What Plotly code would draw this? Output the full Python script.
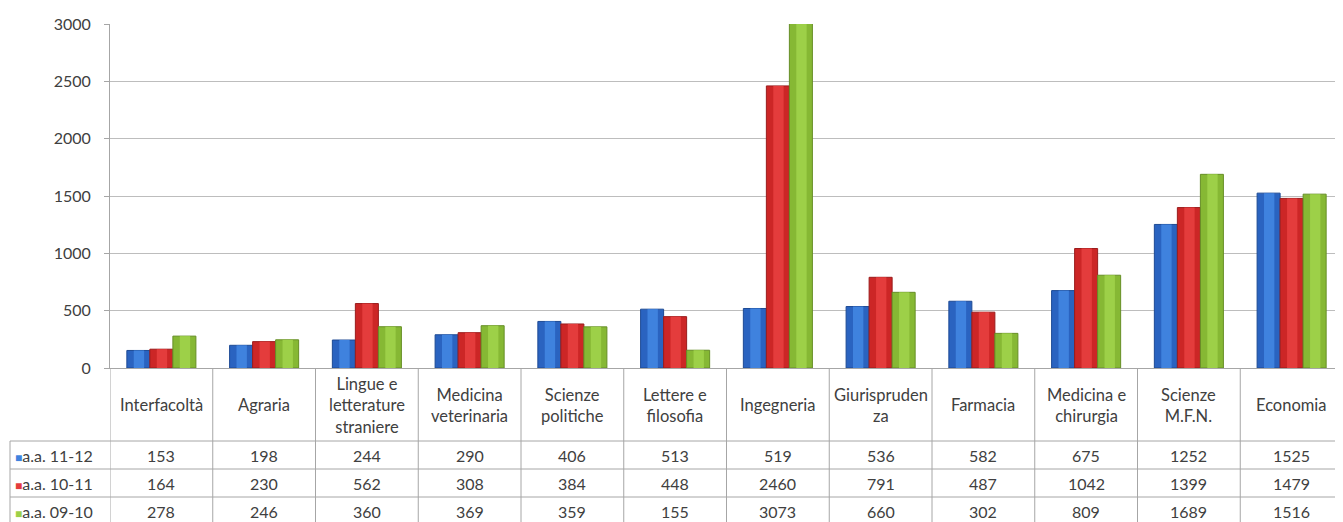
import plotly.graph_objects as go

# ---- data ----
categories = ["Interfacoltà", "Agraria", "Lingue e letterature straniere", "Medicina veterinaria",
              "Scienze politiche", "Lettere e filosofia", "Ingegneria", "Giurisprudenza",
              "Farmacia", "Medicina e chirurgia", "Scienze M.F.N.", "Economia"]
header_labels = ["Interfacoltà", "Agraria", "Lingue e<br>letterature<br>straniere", "Medicina<br>veterinaria",
                 "Scienze<br>politiche", "Lettere e<br>filosofia", "Ingegneria", "Giurispruden<br>za",
                 "Farmacia", "Medicina e<br>chirurgia", "Scienze<br>M.F.N.", "Economia"]
series_names = ["a.a. 11-12", "a.a. 10-11", "a.a. 09-10"]
aa_11_12 = [153, 198, 244, 290, 406, 513, 519, 536, 582, 675, 1252, 1525]
aa_10_11 = [164, 230, 562, 308, 384, 448, 2460, 791, 487, 1042, 1399, 1479]
aa_09_10 = [278, 246, 360, 369, 359, 155, 3073, 660, 302, 809, 1689, 1516]
y_ticks = [0, 500, 1000, 1500, 2000, 2500, 3000]

series_values = [aa_11_12, aa_10_11, aa_09_10]
colors = ["#2a63c0", "#cc2626", "#86b834"]
light_colors = ["#3f82de", "#e43c3c", "#9dd048"]
edge_colors = ["#1d4a94", "#9a1c1c", "#668e26"]

# page body has an 8px margin; layout is computed in screen pixels
OFF = 8
W, H = 1343 - OFF, 522 - OFF
PLOT_L, PLOT_T, PLOT_B = 110, 24, 368          # screen pixels
ML, MR, MT = PLOT_L - OFF, 0, PLOT_T - OFF
MB = H - (PLOT_B - OFF)
PH = PLOT_B - PLOT_T
PW = W - ML - MR
FONT = "Lato, 'Open Sans', sans-serif"
TXT = "#404040"
LINE = "#a6a6a6"

def py(px):
    return (PLOT_B - px) / PH

def pxx(px):
    return (px - PLOT_L) / PW

xs = list(range(len(categories)))
bar_w = 0.224
offsets = [-1.5 * bar_w, -0.5 * bar_w, 0.5 * bar_w]

fig = go.Figure()
for name, vals, c, lc, ec, off in zip(series_names, series_values, colors, light_colors, edge_colors, offsets):
    fig.add_trace(go.Bar(x=xs, y=vals, name=name, width=bar_w, offset=off,
                         marker=dict(color=c, line=dict(color=ec, width=1)),
                         showlegend=False, hoverinfo="skip"))
    fig.add_trace(go.Bar(x=xs, y=vals, name=name, width=bar_w * 0.45, offset=off + bar_w * 0.3,
                         marker=dict(color=lc, line=dict(width=0)),
                         showlegend=False))

shapes = []
for k in range(len(categories)):
    shapes.append(dict(type="line", xref="x", yref="paper", x0=k - 0.5, x1=k - 0.5,
                       y0=0, y1=py(530), line=dict(color=LINE, width=1)))
row_lines = [441, 469, 497, 525]
for yl in row_lines:
    shapes.append(dict(type="line", xref="paper", yref="paper", x0=pxx(10), x1=1,
                       y0=py(yl), y1=py(yl), line=dict(color=LINE, width=1)))
shapes.append(dict(type="line", xref="paper", yref="paper", x0=pxx(10), x1=pxx(10),
                   y0=py(441), y1=py(530), line=dict(color=LINE, width=1)))

annotations = []
for i, lab in enumerate(header_labels):
    annotations.append(dict(x=i, y=py(405), xref="x", yref="paper", text=lab, showarrow=False,
                            xanchor="center", yanchor="middle", align="center",
                            font=dict(family=FONT, size=16.5, color=TXT)))
row_centers = [455, 483, 511]
for r, (name, vals, c) in enumerate(zip(series_names, series_values, light_colors)):
    annotations.append(dict(x=pxx(13), y=py(row_centers[r]), xref="paper", yref="paper",
                            text=f"<span style='color:{c};font-size:12px'>■</span>{name}",
                            showarrow=False, xanchor="left", yanchor="middle",
                            font=dict(family=FONT, size=16, color=TXT)))
    for i, v in enumerate(vals):
        annotations.append(dict(x=i, y=py(row_centers[r]), xref="x", yref="paper", text=str(v),
                                showarrow=False, xanchor="center", yanchor="middle",
                                font=dict(family=FONT, size=16, color=TXT)))

fig.update_layout(
    width=W, height=H,
    margin=dict(l=ML, r=MR, t=MT, b=MB, autoexpand=False),
    paper_bgcolor="white", plot_bgcolor="white",
    barmode="overlay",
    shapes=shapes, annotations=annotations,
    xaxis=dict(range=[-0.5, len(categories) - 0.5], showticklabels=False, showgrid=False,
               showline=True, linecolor=LINE, ticks="", zeroline=False, fixedrange=True),
    yaxis=dict(range=[0, 3000], tickvals=y_ticks, showgrid=True, gridcolor="#bdbdbd", gridwidth=1,
               showline=True, linecolor=LINE, ticks="outside", ticklen=5, tickcolor=LINE,
               ticklabelstandoff=10, zeroline=False,
               tickfont=dict(family=FONT, size=16, color=TXT), fixedrange=True),
)

fig.write_html("out.html")
